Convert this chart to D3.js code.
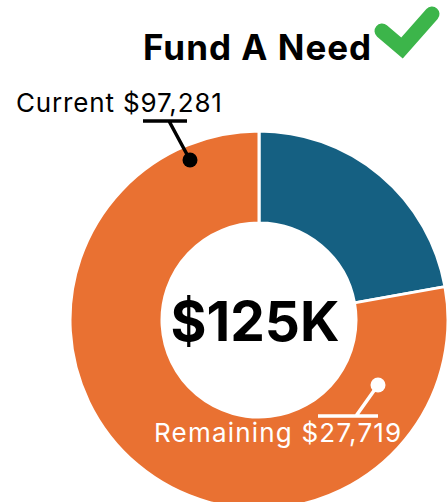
<!DOCTYPE html>
<html><head><meta charset="utf-8">
<script src="https://cdn.jsdelivr.net/npm/d3@7"></script>
<style>html,body{margin:0;padding:0;background:#fff;overflow:hidden}svg{display:block}text{font-family:Inter,"Liberation Sans",sans-serif}</style>
</head><body><div id="c"></div>
<script>
const categories = ["Remaining", "Current"];
const values = [27719, 97281];
const colors = ["#156082", "#E97132"];
const titleText = "Fund A Need";
const centerText = "$125K";
const labelCurrent = "Current $97,281";
const labelRemaining = "Remaining $27,719";

const W = 448, H = 502, cx = 259, cy = 320, rOuter = 189, rInner = 97;
const svg = d3.select("#c").append("svg").attr("width", W).attr("height", H);
const pie = d3.pie().sort(null)(values);
const arc = d3.arc().innerRadius(rInner).outerRadius(rOuter);
const g = svg.append("g").attr("transform", `translate(${cx},${cy})`);
g.selectAll("path").data(pie).join("path")
  .attr("d", arc).attr("fill", (d, i) => colors[i])
  .attr("stroke", "#fff").attr("stroke-width", 3);

svg.append("text").attr("x", 143).attr("y", 60)
  .attr("font-size", 35).attr("font-weight", 700).attr("letter-spacing", 1).attr("fill", "#000").text(titleText);

svg.append("path").attr("d", "M382,31 L402,48 L432,14")
  .attr("fill", "none").attr("stroke", "#3CB54A").attr("stroke-width", 15)
  .attr("stroke-linecap", "round").attr("stroke-linejoin", "miter");

svg.append("text").attr("x", 16).attr("y", 112)
  .attr("font-size", 26).attr("letter-spacing", 0.85).attr("fill", "#000").text(labelCurrent);
svg.append("path").attr("d", "M143,121 H187 M169,121 L190,160")
  .attr("stroke", "#000").attr("stroke-width", 3.5).attr("fill", "none");
svg.append("circle").attr("cx", 190).attr("cy", 160).attr("r", 7.5).attr("fill", "#000");

svg.append("text").attr("x", cx - 4).attr("y", 341).attr("text-anchor", "middle")
  .attr("font-size", 55).attr("font-weight", 700).attr("fill", "#000").text(centerText);

svg.append("text").attr("x", 154).attr("y", 442)
  .attr("font-size", 26).attr("letter-spacing", 1.2).attr("fill", "#fff").text(labelRemaining);
svg.append("path").attr("d", "M318,416 H378 M356,416 L378,385")
  .attr("stroke", "#fff").attr("stroke-width", 3.5).attr("fill", "none");
svg.append("circle").attr("cx", 378).attr("cy", 385).attr("r", 7.5).attr("fill", "#fff");
</script></body></html>
